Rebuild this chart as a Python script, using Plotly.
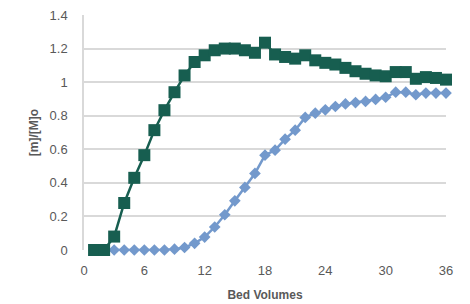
import plotly.graph_objects as go

bed_volumes = list(range(1, 37))
green_values = [0.0, 0.0, 0.08, 0.28, 0.43, 0.565, 0.714, 0.833, 0.94, 1.04,
                1.12, 1.16, 1.19, 1.2, 1.2, 1.19, 1.175, 1.235, 1.165, 1.15,
                1.14, 1.16, 1.13, 1.115, 1.105, 1.085, 1.065, 1.05, 1.04, 1.035,
                1.06, 1.06, 1.02, 1.03, 1.025, 1.015]
blue_values = [0.0, 0.0, 0.0, 0.0, 0.0, 0.0, 0.0, 0.0, 0.005, 0.015,
               0.04, 0.077, 0.137, 0.21, 0.293, 0.373, 0.456, 0.565, 0.595, 0.66,
               0.714, 0.79, 0.815, 0.835, 0.855, 0.87, 0.878, 0.885, 0.897, 0.91,
               0.94, 0.94, 0.925, 0.935, 0.935, 0.935]
x_ticks = [0, 6, 12, 18, 24, 30, 36]
y_ticks = [0, 0.2, 0.4, 0.6, 0.8, 1, 1.2, 1.4]
y_tick_text = ["0", "0.2", "0.4", "0.6", "0.8", "1", "1.2", "1.4"]

fig = go.Figure()
fig.add_trace(go.Scatter(
    x=bed_volumes, y=blue_values, mode="lines+markers",
    line=dict(color="#7399CC", width=2.5),
    marker=dict(symbol="diamond", size=9, color="#7399CC"),
    cliponaxis=False, showlegend=False,
))
fig.add_trace(go.Scatter(
    x=bed_volumes, y=green_values, mode="lines+markers",
    line=dict(color="#175E50", width=2.5),
    marker=dict(symbol="square", size=12, color="#175E50"),
    cliponaxis=False, showlegend=False,
))

fig.update_layout(
    width=470, height=304,
    margin=dict(l=84, r=24, t=15, b=54),
    paper_bgcolor="white", plot_bgcolor="white",
    font=dict(family="Liberation Sans, Arial, sans-serif", size=12, color="#595959"),
    xaxis=dict(
        range=[0, 36], tickvals=x_ticks, showgrid=False, zeroline=False,
        showline=False, ticks="", ticklabelstandoff=11, automargin=False,
        tickfont=dict(size=13, color="#595959"),
        title=dict(text="<b>Bed Volumes</b>", font=dict(size=12, color="#595959"), standoff=13),
    ),
    yaxis=dict(
        range=[0, 1.4], tickvals=y_ticks, ticktext=y_tick_text,
        showgrid=True, gridcolor="#D9D9D9", gridwidth=1.5, zeroline=False,
        showline=True, linecolor="#D9D9D9", linewidth=1.5, ticks="",
        ticklabelstandoff=12, automargin=False,
        tickfont=dict(size=13, color="#595959"),
        title=dict(text="<b>[m]/[M]o</b>", font=dict(size=12, color="#595959"), standoff=8),
    ),
)

fig.write_html("out.html", config={"displayModeBar": False},
               post_script="document.body.style.margin='0';")
